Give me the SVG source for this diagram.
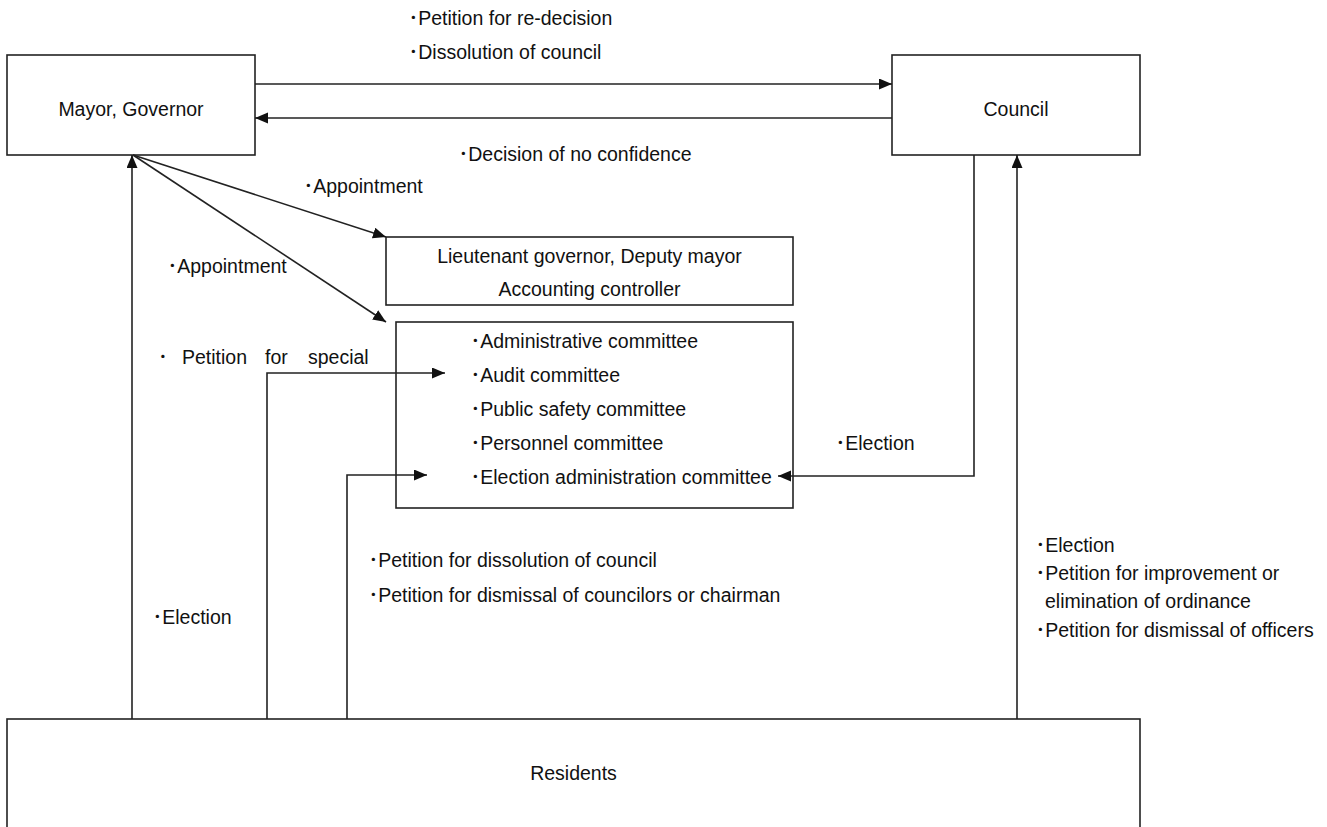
<svg xmlns="http://www.w3.org/2000/svg" width="1327" height="827" viewBox="0 0 1327 827">
<style>
.box{fill:#fff;stroke:#222;stroke-width:1.6}
.ln{fill:none;stroke:#222;stroke-width:1.6}
text{font-family:"Liberation Sans","Noto Sans CJK JP",Arial,sans-serif;font-size:19.5px;fill:#111}
.c{text-anchor:middle}
</style>
<defs>
<marker id="ah" markerUnits="userSpaceOnUse" markerWidth="14" markerHeight="12" refX="13" refY="5.5" orient="auto">
<path d="M0,0 L13,5.5 L0,11 z" fill="#111"/>
</marker>
</defs>
<rect width="1327" height="827" fill="#fff"/>
<g id="residents"><rect class="box" x="7" y="719" width="1133" height="130"/><text class="c" x="573.5" y="780">Residents</text></g>
<g id="mayor"><rect class="box" x="7" y="55" width="248" height="100"/><text class="c" x="131" y="116">Mayor, Governor</text></g>
<g id="council"><rect class="box" x="892" y="55" width="248" height="100"/><text class="c" x="1016" y="116">Council</text></g>
<g id="deputy"><rect class="box" x="386" y="237" width="407" height="68"/><text class="c" x="589.5" y="263">Lieutenant governor, Deputy mayor</text><text class="c" x="589.5" y="296">Accounting controller</text></g>
<g id="committees"><rect class="box" x="396" y="322" width="397" height="186"/>
<text x="470.5" y="348">･Administrative committee</text>
<text x="470.5" y="382">･Audit committee</text>
<text x="470.5" y="416">･Public safety committee</text>
<text x="470.5" y="450">･Personnel committee</text>
<text x="470.5" y="484">･Election administration committee</text>
</g>
<g id="connectors">
<line class="ln" x1="255" y1="84" x2="892" y2="84" marker-end="url(#ah)"/>
<line class="ln" x1="892" y1="118" x2="255" y2="118" marker-end="url(#ah)"/>
<line class="ln" x1="133" y1="155" x2="386" y2="237" marker-end="url(#ah)"/>
<line class="ln" x1="133" y1="155" x2="386" y2="322" marker-end="url(#ah)"/>
<line class="ln" x1="132" y1="719" x2="132" y2="155" marker-end="url(#ah)"/>
<polyline class="ln" points="267,719 267,373 445,373" marker-end="url(#ah)"/>
<polyline class="ln" points="347,719 347,475 427,475" marker-end="url(#ah)"/>
<polyline class="ln" points="974,155 974,476 778,476" marker-end="url(#ah)"/>
<line class="ln" x1="1017" y1="719" x2="1017" y2="155" marker-end="url(#ah)"/>
</g>
<g id="labels">
<text x="408.5" y="25">･Petition for re-decision</text>
<text x="408.5" y="59">･Dissolution of council</text>
<text x="458.5" y="161">･Decision of no confidence</text>
<text x="303.5" y="193">･Appointment</text>
<text x="167.5" y="273">･Appointment</text>
<text x="158" y="364">･ <tspan x="182">Petition</tspan> <tspan x="265">for</tspan> <tspan x="308">special</tspan></text>
<text x="835.5" y="450">･Election</text>
<text x="368.5" y="567">･Petition for dissolution of council</text>
<text x="368.5" y="602">･Petition for dismissal of councilors or chairman</text>
<text x="152.5" y="624">･Election</text>
<text x="1035.5" y="552">･Election</text>
<text x="1035.5" y="580">･Petition for improvement or</text>
<text x="1045" y="608">elimination of ordinance</text>
<text x="1035.5" y="637">･Petition for dismissal of officers</text>
</g>
</svg>
